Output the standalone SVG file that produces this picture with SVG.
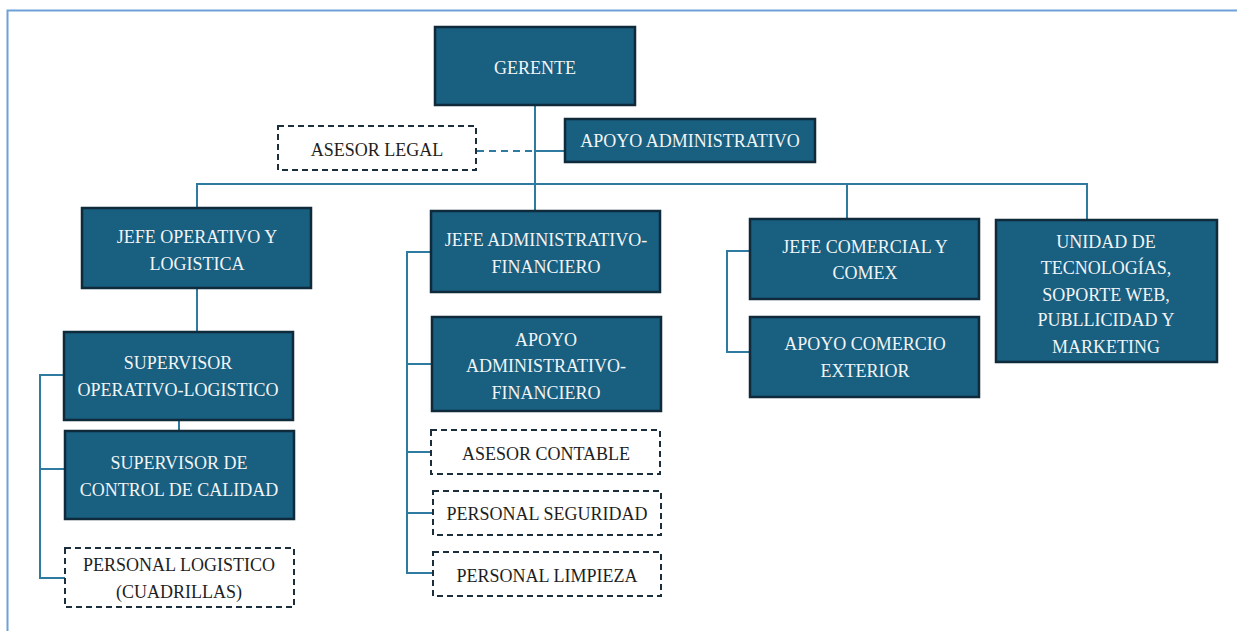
<svg xmlns="http://www.w3.org/2000/svg" width="1237" height="631" viewBox="0 0 1237 631">
<style>
.box{fill:#185f80;stroke:#0e2a3b;stroke-width:2.5}
.dbox{fill:#ffffff;stroke:#1b2e3b;stroke-width:2;stroke-dasharray:6 4}
.t{font-family:"Liberation Serif","Times New Roman",serif;font-size:18px;fill:#f2f4f6;text-anchor:middle}
.dt{font-family:"Liberation Serif","Times New Roman",serif;font-size:18px;fill:#1e1e1e;text-anchor:middle}
.c{fill:none;stroke:#2f7aa0;stroke-width:2}
.cd{fill:none;stroke:#2f7aa0;stroke-width:2;stroke-dasharray:7 5}
.frame{fill:none;stroke:#6fa0d8;stroke-width:2}
</style>
<rect width="1237" height="631" fill="#ffffff"/>
<path class="frame" d="M7.5,631 V10.5 H1237"/>
<g id="connectors">
<path class="c" d="M535,105 V213"/>
<path class="cd" d="M477,151 H534"/>
<path class="c" d="M535,151 H565"/>
<path class="c" d="M197,208 V184 H1087 V220"/>
<path class="c" d="M847,184 V219"/>
<path class="c" d="M197,288 V332"/>
<path class="c" d="M179,420 V431"/>
<path class="c" d="M64,375 H40 V578 H65 M40,469 H65"/>
<path class="c" d="M431,252 H407 V573 H433 M407,364 H432 M407,452 H431 M407,513 H433"/>
<path class="c" d="M750,251 H727 V352 H750"/>
</g>
<g id="gerente"><rect class="box" x="435" y="27" width="200" height="78"/><text class="t" x="535" y="74">GERENTE</text></g>
<g id="asesor-legal"><rect class="dbox" x="278" y="126" width="198" height="44"/><text class="dt" x="377" y="156">ASESOR LEGAL</text></g>
<g id="apoyo-administrativo"><rect class="box" x="565" y="119" width="250" height="43"/><text class="t" x="690" y="147">APOYO ADMINISTRATIVO</text></g>
<g id="jefe-operativo"><rect class="box" x="82" y="208" width="229" height="80"/><text class="t" x="197" y="243">JEFE OPERATIVO Y</text><text class="t" x="197" y="270">LOGISTICA</text></g>
<g id="supervisor-operativo"><rect class="box" x="64" y="332" width="229" height="88"/><text class="t" x="178" y="369">SUPERVISOR</text><text class="t" x="178" y="396">OPERATIVO-LOGISTICO</text></g>
<g id="supervisor-calidad"><rect class="box" x="65" y="431" width="229" height="88"/><text class="t" x="179" y="469">SUPERVISOR DE</text><text class="t" x="179" y="496">CONTROL DE CALIDAD</text></g>
<g id="personal-logistico"><rect class="dbox" x="65" y="548" width="229" height="59"/><text class="dt" x="179" y="571">PERSONAL LOGISTICO</text><text class="dt" x="179" y="598">(CUADRILLAS)</text></g>
<g id="jefe-administrativo"><rect class="box" x="431" y="211" width="229" height="81"/><text class="t" x="546" y="246">JEFE ADMINISTRATIVO-</text><text class="t" x="546" y="273">FINANCIERO</text></g>
<g id="apoyo-adm-fin"><rect class="box" x="432" y="317" width="229" height="94"/><text class="t" x="546" y="346">APOYO</text><text class="t" x="546" y="372">ADMINISTRATIVO-</text><text class="t" x="546" y="399">FINANCIERO</text></g>
<g id="asesor-contable"><rect class="dbox" x="431" y="430" width="229" height="44"/><text class="dt" x="546" y="460">ASESOR CONTABLE</text></g>
<g id="personal-seguridad"><rect class="dbox" x="433" y="491" width="228" height="44"/><text class="dt" x="547" y="520">PERSONAL SEGURIDAD</text></g>
<g id="personal-limpieza"><rect class="dbox" x="433" y="552" width="228" height="44"/><text class="dt" x="547" y="582">PERSONAL LIMPIEZA</text></g>
<g id="jefe-comercial"><rect class="box" x="750" y="219" width="229" height="80"/><text class="t" x="865" y="253">JEFE COMERCIAL Y</text><text class="t" x="865" y="279">COMEX</text></g>
<g id="apoyo-comercio"><rect class="box" x="750" y="317" width="229" height="80"/><text class="t" x="865" y="350">APOYO COMERCIO</text><text class="t" x="865" y="377">EXTERIOR</text></g>
<g id="unidad-tecnologias"><rect class="box" x="996" y="220" width="221" height="142"/><text class="t" x="1106" y="248">UNIDAD DE</text><text class="t" x="1106" y="274">TECNOLOGÍAS,</text><text class="t" x="1106" y="301">SOPORTE WEB,</text><text class="t" x="1106" y="326">PUBLLICIDAD Y</text><text class="t" x="1106" y="353">MARKETING</text></g>
</svg>
